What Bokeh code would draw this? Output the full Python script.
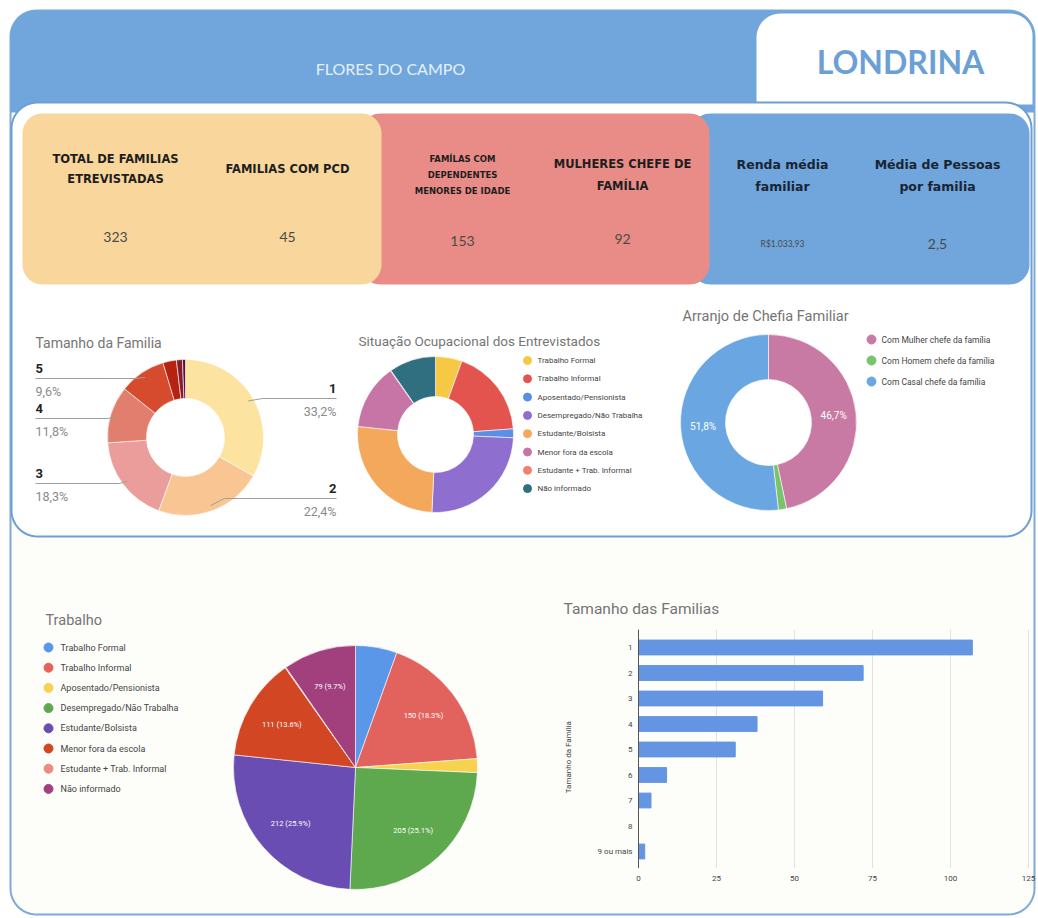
import math
import numpy as np
from bokeh.plotting import figure
from bokeh.models import Range1d, ColumnDataSource
from bokeh.embed import file_html
from bokeh.resources import INLINE
from bokeh.core.properties import value

# ---------------- data ----------------
bairro = "FLORES DO CAMPO"
cidade = "LONDRINA"

kpi_titles = [
    ["TOTAL DE FAMILIAS", "ETREVISTADAS"],
    ["FAMILIAS COM PCD"],
    ["FAMÍLAS COM", "DEPENDENTES", "MENORES DE IDADE"],
    ["MULHERES CHEFE DE", "FAMÍLIA"],
    ["Renda média", "familiar"],
    ["Média de Pessoas", "por familia"],
]
kpi_values = ["323", "45", "153", "92", "R$1.033,93", "2,5"]

familia_cats = ["1", "2", "3", "4", "5", "6", "7", "8", "9 ou mais"]
familia_counts = [107, 72, 59, 38, 31, 9, 4, 0, 2]

ocup_cats = ["Trabalho Formal", "Trabalho Informal", "Aposentado/Pensionista",
             "Desempregado/Não Trabalha", "Estudante/Bolsista", "Menor fora da escola",
             "Estudante + Trab. Informal", "Não informado"]
ocup_counts = [45, 150, 15, 205, 212, 111, 1, 79]

chefia_cats = ["Com Mulher chefe da família", "Com Homem chefe da família",
               "Com Casal chefe da família"]
chefia_pct = [46.7, 1.5, 51.8]

bar_ticks = [0, 25, 50, 75, 100, 125]

# ---------------- styles ----------------
fam_colors = ["#fde3a0", "#f8c593", "#eb9d9c", "#e17e6d", "#d64b2d",
              "#b5220f", "#8a1a2e", "#6d1433", "#5a0f2e"]
ocup_donut_colors = ["#f7c843", "#e4544f", "#5b8ee6", "#8e6fd0", "#f4a85c",
                     "#c774a6", "#f08070", "#2f6f80"]
ocup_pie_colors = ["#5b97e8", "#e2625e", "#f7d24f", "#5ea84d", "#6a4db3",
                   "#d24624", "#ee8a80", "#a1407d"]
chefia_colors = ["#c97aa4", "#79c36a", "#6aa7e2"]

HEAD_BLUE = "#70a6dc"
CHART_FONT = "Roboto"
KPI_FONT = "Lato"
KPI_TITLE_FONT = "DejaVu Sans"

W, H = 1038, 918
XL, XR = 0, W
YT, YB = 0, H

p = figure(width=W, height=H, x_range=Range1d(XL, XR), y_range=Range1d(YB, YT),
           output_backend="svg", toolbar_location=None, tools="",
           x_axis_location=None, y_axis_location=None, min_border=0,
           outline_line_color=None, background_fill_color="white",
           border_fill_color="white")
p.grid.visible = False


def rrect(x0, y0, x1, y1, r, n=14):
    if not isinstance(r, (list, tuple)):
        r = [r] * 4
    xs, ys = [], []
    specs = [((x0 + r[0], y0 + r[0]), r[0], 180, 270),
             ((x1 - r[1], y0 + r[1]), r[1], 270, 360),
             ((x1 - r[2], y1 - r[2]), r[2], 0, 90),
             ((x0 + r[3], y1 - r[3]), r[3], 90, 180)]
    for (cx, cy), rr, a0, a1 in specs:
        for t in np.linspace(math.radians(a0), math.radians(a1), n):
            xs.append(cx + rr * math.cos(t))
            ys.append(cy + rr * math.sin(t))
    return xs, ys


def box(x0, y0, x1, y1, r, fill, line=None, lw=1):
    xs, ys = rrect(x0, y0, x1, y1, r)
    p.patch(xs, ys, fill_color=fill, line_color=line, line_width=lw)


def txt(x, y, s, size, color, align="left", baseline="middle", bold=False,
        font=CHART_FONT, angle=0, **kw):
    p.text(x=[x], y=[y], text=[s], text_font=value(font),
           text_font_size=f"{size}px", text_color=color, text_align=align,
           text_baseline=baseline, text_font_style="bold" if bold else "normal",
           angle=angle, **kw)


# ---------------- frame ----------------
box(10, 10, 1034, 914, 26, "#fdfdfa", "#7eaad8", 2)
box(10, 10, 1034, 112, [26, 26, 0, 0], HEAD_BLUE)
box(756, 13, 1032, 104, [24, 22, 0, 0], "white")
box(11, 102, 1031, 536, 26, "white", "#6e9fd4", 2)

txt(390, 68, bairro, 16, "#e6f0fb", align="center", font=KPI_FONT)
txt(900, 61, cidade, 32, "#6b9fd6", align="center", bold=True, font=KPI_FONT)

# ---------------- KPI cards ----------------
box(690, 113, 1029, 284, 20, HEAD_BLUE)
box(360, 113, 709, 284, 20, "#e98c87")
box(22, 113, 381, 284, 20, "#f9d69c")

kpi_x = [115, 287, 462, 622, 782, 937]
kpi_title_y = [[158, 178], [168], [158, 174, 190], [163, 185], [164, 186], [164, 186]]
kpi_title_size = [11.5, 11.5, 8.5, 11.5, 12.5, 12.5]
kpi_title_color = ["#1e1e1e"] * 4 + ["#1a2433"] * 2
kpi_value_y = [236, 236, 240, 238, 243, 243]
kpi_value_size = [14, 14, 14, 14, 8.5, 14]
for i, lines in enumerate(kpi_titles):
    for s, yy in zip(lines, kpi_title_y[i]):
        txt(kpi_x[i], yy, s, kpi_title_size[i], kpi_title_color[i], align="center",
            bold=True, font=KPI_TITLE_FONT)
    txt(kpi_x[i], kpi_value_y[i], kpi_values[i], kpi_value_size[i], "#4a4a4a",
        align="center", font=KPI_FONT)


def wedge_source(vals, cx, cy, colors):
    vals = np.asarray(vals, dtype=float)
    frac = vals / vals.sum()
    c1 = np.cumsum(frac)
    c0 = c1 - frac
    keep = vals > 0
    start = np.pi / 2 - 2 * np.pi * c0
    end = np.pi / 2 - 2 * np.pi * c1
    src = ColumnDataSource(dict(
        x=[cx] * int(keep.sum()), y=[cy] * int(keep.sum()),
        start=start[keep], end=end[keep],
        color=[c for c, k in zip(colors, keep) if k]))
    mid = 2 * np.pi * (c0 + c1) / 2  # clockwise from top
    return src, frac, mid


# ---------------- Donut 1: Tamanho da Familia ----------------
txt(35, 342, "Tamanho da Familia", 14, "#757575")
C1X, C1Y, R1O, R1I = 185, 437, 78, 39
src, frac, mid = wedge_source(familia_counts, C1X, C1Y, fam_colors)
p.annular_wedge(x="x", y="y", inner_radius=R1I, outer_radius=R1O,
                inner_radius_units="screen", outer_radius_units="screen",
                start_angle="start", end_angle="end", direction="clock",
                fill_color="color", line_color="white", line_width=0.6, source=src)
fam_label_line_y = {"1": 398, "2": 498, "3": 483, "4": 418, "5": 378}
for cat, f, m in zip(familia_cats, frac, mid):
    if cat not in fam_label_line_y:
        continue
    ly = fam_label_line_y[cat]
    px = C1X + 0.93 * R1O * math.sin(m)
    py = C1Y - 0.93 * R1O * math.cos(m)
    pct = f"{f * 100:.1f}".replace(".", ",") + "%"
    if math.sin(m) > 0:
        ex = 336
        p.line([px, px + 14, ex], [py, ly, ly], line_color="#9e9e9e", line_width=1)
        txt(ex, ly - 10, cat, 13, "#222222", align="right", bold=True)
        txt(ex, ly + 13, pct, 12.5, "#8a8a8a", align="right")
    else:
        ex = 35
        p.line([ex, px - 8, px], [ly, ly, py], line_color="#9e9e9e", line_width=1)
        txt(ex, ly - 10, cat, 13, "#222222", align="left", bold=True)
        txt(ex, ly + 13, pct, 12.5, "#8a8a8a", align="left")

# ---------------- Donut 2: Situação Ocupacional ----------------
txt(358, 340, "Situação Ocupacional dos Entrevistados", 13.5, "#757575")
src2, _, _ = wedge_source(ocup_counts, 435, 434, ocup_donut_colors)
p.annular_wedge(x="x", y="y", inner_radius=38, outer_radius=78,
                inner_radius_units="screen", outer_radius_units="screen",
                start_angle="start", end_angle="end", direction="clock",
                fill_color="color", line_color="white", line_width=0.6, source=src2)
for i, (cat, col) in enumerate(zip(ocup_cats, ocup_donut_colors)):
    yy = 360 + i * 18.3
    p.scatter([527], [yy], size=8, marker="circle", fill_color=col, line_color=col)
    txt(537, yy, cat, 8, "#444444")

# ---------------- Donut 3: Arranjo de Chefia ----------------
txt(682, 316, "Arranjo de Chefia Familiar", 14.5, "#757575")
C3X, C3Y, R3O, R3I = 768, 422, 88, 43
src3, frac3, mid3 = wedge_source(chefia_pct, C3X, C3Y, chefia_colors)
p.annular_wedge(x="x", y="y", inner_radius=R3I, outer_radius=R3O,
                inner_radius_units="screen", outer_radius_units="screen",
                start_angle="start", end_angle="end", direction="clock",
                fill_color="color", line_color="white", line_width=0.6, source=src3)
for v, m in zip(chefia_pct, mid3):
    if v < 5:
        continue
    rr = (R3O + R3I) / 2
    txt(C3X + rr * math.sin(m), C3Y - rr * math.cos(m),
        f"{v:.1f}".replace(".", ",") + "%", 10, "white", align="center")
for i, (cat, col) in enumerate(zip(chefia_cats, chefia_colors)):
    yy = 339 + i * 21
    p.scatter([871], [yy], size=9, marker="circle", fill_color=col, line_color=col)
    txt(881, yy, cat, 8.5, "#444444")

# ---------------- Pie: Trabalho ----------------
txt(45, 620, "Trabalho", 14.5, "#757575")
C4X, C4Y, R4 = 355, 767, 122
src4, frac4, mid4 = wedge_source(ocup_counts, C4X, C4Y, ocup_pie_colors)
p.wedge(x="x", y="y", radius=R4, radius_units="screen",
        start_angle="start", end_angle="end", direction="clock",
        fill_color="color", line_color="white", line_width=0.6, source=src4)
for v, f, m in zip(ocup_counts, frac4, mid4):
    if f < 0.06:
        continue
    rr = 0.7 * R4
    txt(C4X + rr * math.sin(m), C4Y - rr * math.cos(m),
        f"{v} ({f * 100:.1f}%)", 7.5, "white", align="center")
for i, (cat, col) in enumerate(zip(ocup_cats, ocup_pie_colors)):
    yy = 647 + i * 20.2
    p.scatter([48], [yy], size=9, marker="circle", fill_color=col, line_color=col)
    txt(60, yy, cat, 9, "#444444")

# ---------------- Bar: Tamanho das Familias ----------------
txt(563, 608, "Tamanho das Familias", 15.5, "#757575")
BAR_PX0, BAR_PX1 = 638, 1028
kx = (BAR_PX1 - BAR_PX0) / (bar_ticks[-1] - bar_ticks[0])
ROW0, ROW_STEP = 647, 25.5
p.extra_x_ranges = {"bar": Range1d(start=bar_ticks[0] - (BAR_PX0 - XL) / kx,
                                   end=bar_ticks[0] + (XR - BAR_PX0) / kx)}
p.extra_y_ranges = {"bar": Range1d(start=(YB - ROW0) / ROW_STEP,
                                   end=(YT - ROW0) / ROW_STEP)}
idx = list(range(len(familia_cats)))
n = len(familia_cats)
p.segment(x0=bar_ticks[1:], y0=[-0.7] * (len(bar_ticks) - 1), x1=bar_ticks[1:],
          y1=[n - 0.35] * (len(bar_ticks) - 1), line_color="#e2e2e2", line_width=1,
          x_range_name="bar", y_range_name="bar")
p.hbar(y=idx, left=0, right=familia_counts, height=0.58, fill_color="#6395e2",
       line_color="#6395e2", x_range_name="bar", y_range_name="bar")
p.segment(x0=[0], y0=[-0.7], x1=[0], y1=[n - 0.35], line_color="#555555",
          line_width=1, x_range_name="bar", y_range_name="bar")
p.text(x=[0] * n, y=idx, text=familia_cats, x_offset=-6, text_align="right",
       text_baseline="middle", text_font=value(CHART_FONT), text_font_size="8px",
       text_color="#444444", x_range_name="bar", y_range_name="bar")
p.text(x=bar_ticks, y=[n + 0.05] * len(bar_ticks), text=[str(t) for t in bar_ticks],
       text_align="center", text_baseline="middle", text_font=value(CHART_FONT),
       text_font_size="8px", text_color="#444444", x_range_name="bar",
       y_range_name="bar")
p.text(x=[568], y=[(n - 1) / 2 + 0.3], text=["Tamanho da Família"], angle=math.pi / 2,
       text_align="center", text_baseline="middle", text_font=value(CHART_FONT),
       text_font_size="8px", text_color="#444444", y_range_name="bar")

open("out.html", "w").write(file_html(p, INLINE))
